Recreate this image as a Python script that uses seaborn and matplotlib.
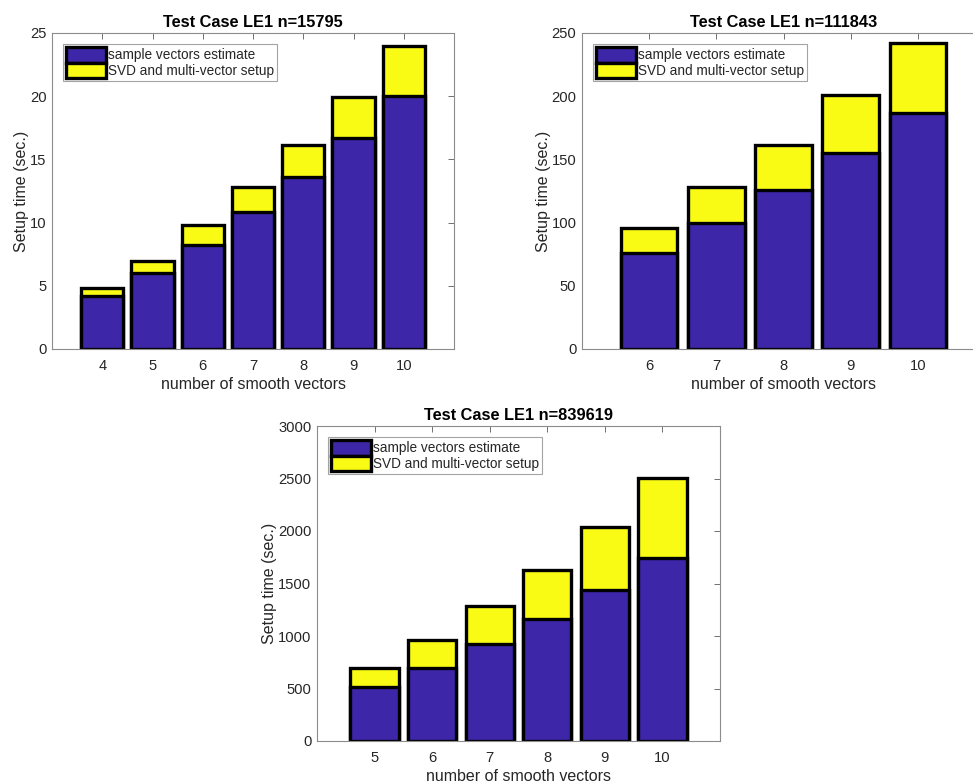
import numpy as np
import pandas as pd
import matplotlib
matplotlib.use('Agg')
import matplotlib.pyplot as plt
import seaborn as sns
from matplotlib.patches import Patch

sns.set_style('white')
plt.rcParams['font.family'] = ['Liberation Sans', 'DejaVu Sans']

# data
k1 = [4, 5, 6, 7, 8, 9, 10]
sample1 = [4.2, 6.0, 8.2, 10.8, 13.6, 16.7, 20.0]
total1 = [4.8, 7.0, 9.8, 12.8, 16.1, 19.9, 24.0]

k2 = [6, 7, 8, 9, 10]
sample2 = [76, 100, 126, 155, 187]
total2 = [96, 128, 161, 201, 242]

k3 = [5, 6, 7, 8, 9, 10]
sample3 = [510, 700, 920, 1160, 1440, 1740]
total3 = [700, 965, 1285, 1630, 2040, 2505]

titles = ['Test Case LE1 n=15795', 'Test Case LE1 n=111843', 'Test Case LE1 n=839619']
labels = ['sample vectors estimate', 'SVD and multi-vector setup']

BLUE = '#3E26A8'
YELLOW = '#F9FB15'
AX_GRAY = '#262626'

W, H = 973, 783
fig = plt.figure(figsize=(W / 100, H / 100), dpi=100)


def px_axes(left, top, right, bottom):
	return fig.add_axes([left / W, 1 - bottom / H, (right - left) / W, (bottom - top) / H])


def draw(ax, ks, sample, total, title, xlim, ylim, yticks):
	df = pd.DataFrame({'k': ks, 'sample': sample, 'total': total})
	sns.barplot(data=df, x='k', y='total', native_scale=True, color=YELLOW,
				saturation=1, edgecolor='black', linewidth=2.4, width=0.84, ax=ax)
	sns.barplot(data=df, x='k', y='sample', native_scale=True, color=BLUE,
				saturation=1, edgecolor='black', linewidth=2.4, width=0.84, ax=ax)
	ax.set_xlim(*xlim)
	ax.set_ylim(*ylim)
	ax.set_xticks(ks)
	ax.set_xticklabels([str(k) for k in ks])
	ax.set_yticks(yticks)
	ax.set_xlabel('number of smooth vectors', fontsize=11.5, color=AX_GRAY, labelpad=3)
	ax.set_ylabel('Setup time (sec.)', fontsize=11.5, color=AX_GRAY, labelpad=0.5)
	ax.set_title(title, fontsize=11.8, fontweight='bold', color='black', pad=4)
	ax.tick_params(direction='in', length=4, width=0.6, colors='#5a5a5a',
				   labelcolor=AX_GRAY, labelsize=10.6, top=True, right=True)
	ax.tick_params(axis='x', pad=7)
	ax.tick_params(axis='y', pad=4)
	for sp in ax.spines.values():
		sp.set_color('#8c8c8c')
		sp.set_linewidth(0.8)
	handles = [Patch(facecolor=BLUE, edgecolor='black', linewidth=2.4),
			   Patch(facecolor=YELLOW, edgecolor='black', linewidth=2.4)]
	leg = ax.legend(handles, labels, loc='upper left', fontsize=9.8, frameon=True,
					fancybox=False, handlelength=2.95, handleheight=1.35,
					handletextpad=0.1, borderpad=0.25, labelspacing=0.0,
					borderaxespad=0.8)
	leg.get_frame().set_edgecolor('#8c8c8c')
	leg.get_frame().set_linewidth(0.8)


ax1 = px_axes(52, 33, 454, 349)
draw(ax1, k1, sample1, total1, titles[0], (3, 11), (0, 25), [0, 5, 10, 15, 20, 25])

ax2 = px_axes(582, 33, 985, 349)
draw(ax2, k2, sample2, total2, titles[1], (5, 11), (0, 250), [0, 50, 100, 150, 200, 250])

ax3 = px_axes(317, 426, 720, 741)
draw(ax3, k3, sample3, total3, titles[2], (4, 11), (0, 3000), [0, 500, 1000, 1500, 2000, 2500, 3000])

fig.savefig('out.png', dpi=100, facecolor='w')
